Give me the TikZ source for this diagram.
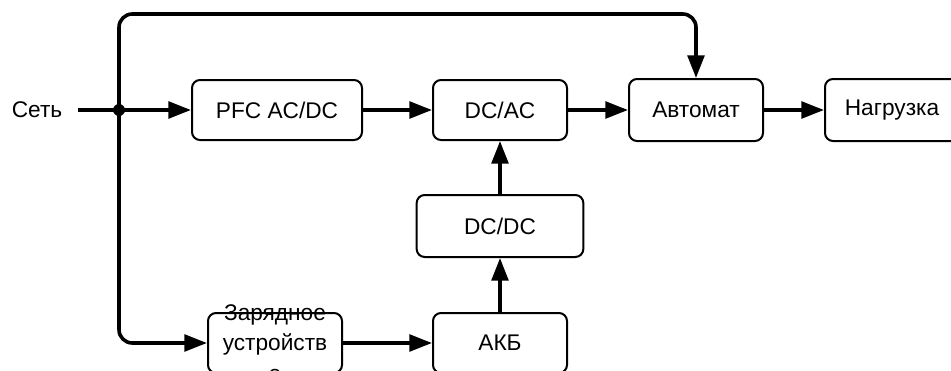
\documentclass[tikz,border=0pt]{standalone}
\usepackage{fontspec}
\setmainfont{Liberation Sans}
\usetikzlibrary{arrows.meta,positioning}
\tikzset{
 blk/.style={draw,line width=1.5pt,rounded corners=6pt,minimum width=100.5pt,minimum height=45pt,inner sep=0pt},
 txt/.style={font=\fontsize{17}{23}\selectfont,align=center},
 con/.style={line width=2.7pt,-{Triangle[length=17pt,width=12.5pt]}},
}
\begin{document}
\begin{tikzpicture}[x=0.75pt,y=-0.75pt]
 \useasboundingbox (0,0) rectangle (951,371);
 \clip (0,0) rectangle (951,371);
 % blocks
 \node (set) at (37,110) [txt] {Сеть};
 \node (pfc) at (277,110) [blk,txt,minimum width=127.5pt] {PFC AC/DC};
 \node (dcac) at (500,110) [blk,txt] {DC/AC};
 \node (avt) at (696,110) [blk,txt,minimum height=46.5pt] {Автомат};
 \node (load) at (892,110) [blk,txt,minimum height=46.5pt] {Нагрузка};
 \node (dcdc) at (500,226) [blk,txt,minimum width=125pt,minimum height=46.5pt] {DC/DC};
 \node (akb) at (500,343) [blk,txt] {АКБ};
 \node (chg) at (275,343) [blk] {};
 \node (chgt) at (275,343) [txt] {Зарядное\\устройств\\о};

 % coordinates
 \coordinate (in) at (78,110);
 \coordinate (jn) at (119,110);
 \coordinate (topl) at (119,14);
 \coordinate (topr) at (696,14);

 % connectors
 \draw[con] (in) -- (pfc);
 \draw[con] (pfc) -- (dcac);
 \draw[con] (dcac) -- (avt);
 \draw[con] (avt) -- (load);
 \draw[con] (akb) -- (dcdc);
 \draw[con] (dcdc) -- (dcac);
 \draw[con] (chg) -- (akb);
 \draw[con,rounded corners=10pt] (jn) -- (topl) -- (topr) -- (avt.north);
 \draw[con,rounded corners=10pt] (jn) |- (chg.west);
 \fill (jn) circle (4.5pt);
\end{tikzpicture}
\end{document}
